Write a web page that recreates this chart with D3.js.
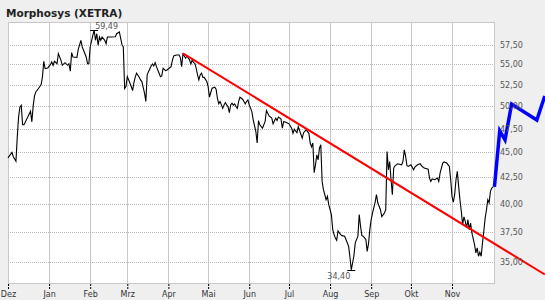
<!DOCTYPE html>
<html>
<head>
<meta charset="utf-8">
<script src="https://cdn.jsdelivr.net/npm/d3@7"></script>
<style>
  html, body { margin: 0; padding: 0; background: #efefef; }
  svg { display: block; }
</style>
</head>
<body>
<svg id="chart" width="545" height="300"></svg>
<script>
// Schlusskurse Morphosys (XETRA), Dez 2006 - Dez 2007
const closes = [
  ['2006-12-01', 44.43], ['2006-12-04', 44.97], ['2006-12-05', 44.54], ['2006-12-07', 44.10], ['2006-12-08', 46.62],
  ['2006-12-09', 48.79], ['2006-12-10', 49.91], ['2006-12-11', 50.11], ['2006-12-12', 47.94], ['2006-12-13', 47.90],
  ['2006-12-16', 48.79], ['2006-12-18', 49.43], ['2006-12-19', 48.24], ['2006-12-20', 50.03], ['2006-12-21', 51.18],
  ['2006-12-22', 51.65], ['2006-12-24', 52.05], ['2006-12-26', 52.53], ['2006-12-27', 53.46], ['2006-12-28', 55.40],
  ['2006-12-29', 54.47], ['2006-12-31', 54.56],
  ['2007-01-02', 54.97], ['2007-01-03', 55.31], ['2007-01-04', 54.89], ['2007-01-05', 55.40], ['2007-01-07', 55.09],
  ['2007-01-08', 56.37], ['2007-01-10', 55.52], ['2007-01-11', 54.89], ['2007-01-13', 55.22], ['2007-01-15', 54.89],
  ['2007-01-16', 55.09], ['2007-01-17', 54.15], ['2007-01-18', 56.50], ['2007-01-19', 55.94], ['2007-01-22', 55.90],
  ['2007-01-23', 56.94], ['2007-01-25', 58.12], ['2007-01-26', 57.24], ['2007-01-27', 56.81], ['2007-01-29', 55.94],
  ['2007-01-30', 55.09], ['2007-01-31', 55.10],
  ['2007-02-01', 57.24], ['2007-02-03', 58.79], ['2007-02-04', 59.49], ['2007-02-05', 58.12], ['2007-02-06', 59.00],
  ['2007-02-07', 57.46], ['2007-02-08', 58.56], ['2007-02-09', 58.12], ['2007-02-10', 58.56], ['2007-02-12', 58.12],
  ['2007-02-13', 57.67], ['2007-02-14', 58.56], ['2007-02-17', 58.56], ['2007-02-20', 58.60], ['2007-02-21', 59.00],
  ['2007-02-23', 59.23], ['2007-02-25', 57.54], ['2007-02-26', 57.24], ['2007-02-27', 52.05], ['2007-02-28', 52.29],
  ['2007-03-01', 53.49], ['2007-03-02', 53.10], ['2007-03-04', 52.29], ['2007-03-05', 51.81], ['2007-03-06', 52.77],
  ['2007-03-07', 53.42], ['2007-03-08', 53.91], ['2007-03-10', 53.42], ['2007-03-11', 53.09], ['2007-03-12', 52.89],
  ['2007-03-14', 51.50], ['2007-03-15', 50.53], ['2007-03-16', 53.70], ['2007-03-17', 54.10], ['2007-03-19', 54.81],
  ['2007-03-20', 55.06], ['2007-03-21', 54.81], ['2007-03-22', 55.22], ['2007-03-23', 54.72], ['2007-03-25', 53.91],
  ['2007-03-26', 53.49], ['2007-03-27', 53.58], ['2007-03-28', 54.52], ['2007-03-30', 54.22], ['2007-03-31', 54.31],
  ['2007-04-03', 54.72], ['2007-04-04', 55.47], ['2007-04-05', 56.07], ['2007-04-07', 56.20], ['2007-04-09', 56.20],
  ['2007-04-10', 55.90], ['2007-04-11', 54.72], ['2007-04-12', 56.33], ['2007-04-13', 56.07], ['2007-04-14', 55.78],
  ['2007-04-15', 56.07], ['2007-04-17', 55.56], ['2007-04-18', 55.06], ['2007-04-19', 55.56], ['2007-04-20', 55.22],
  ['2007-04-21', 55.14], ['2007-04-22', 54.52], ['2007-04-23', 53.70], ['2007-04-24', 53.09], ['2007-04-25', 53.70],
  ['2007-04-26', 53.91], ['2007-04-27', 53.42], ['2007-04-28', 53.40], ['2007-04-30', 52.89],
  ['2007-05-01', 52.29], ['2007-05-02', 51.03], ['2007-05-03', 51.58], ['2007-05-04', 52.10], ['2007-05-06', 52.22],
  ['2007-05-07', 51.98], ['2007-05-08', 50.91], ['2007-05-09', 50.26], ['2007-05-10', 50.53], ['2007-05-11', 50.14],
  ['2007-05-12', 49.75], ['2007-05-13', 50.14], ['2007-05-14', 50.41], ['2007-05-15', 50.14], ['2007-05-16', 49.95],
  ['2007-05-17', 49.27], ['2007-05-18', 50.14], ['2007-05-19', 50.33], ['2007-05-20', 50.12], ['2007-05-21', 50.26],
  ['2007-05-22', 49.95], ['2007-05-23', 49.75], ['2007-05-24', 50.53], ['2007-05-25', 51.03], ['2007-05-27', 50.80],
  ['2007-05-28', 50.53], ['2007-05-29', 50.26], ['2007-05-30', 50.53], ['2007-05-31', 50.72],
  ['2007-06-01', 50.14], ['2007-06-03', 49.38], ['2007-06-04', 48.46], ['2007-06-06', 47.18], ['2007-06-07', 45.96],
  ['2007-06-08', 48.38], ['2007-06-09', 47.91], ['2007-06-11', 47.54], ['2007-06-13', 48.28], ['2007-06-14', 49.50],
  ['2007-06-16', 48.90], ['2007-06-18', 48.65], ['2007-06-19', 48.02], ['2007-06-21', 48.65], ['2007-06-22', 48.38],
  ['2007-06-23', 48.76], ['2007-06-25', 48.54], ['2007-06-26', 47.54], ['2007-06-27', 48.28], ['2007-06-29', 48.16],
  ['2007-07-01', 48.02], ['2007-07-03', 47.54], ['2007-07-04', 47.00], ['2007-07-05', 47.43], ['2007-07-07', 47.06],
  ['2007-07-08', 47.72], ['2007-07-09', 47.29], ['2007-07-11', 46.48], ['2007-07-12', 47.06], ['2007-07-14', 47.36],
  ['2007-07-15', 47.18], ['2007-07-16', 47.00], ['2007-07-17', 45.96], ['2007-07-18', 45.56], ['2007-07-19', 45.96],
  ['2007-07-20', 42.94], ['2007-07-21', 43.73], ['2007-07-22', 44.74], ['2007-07-23', 44.23], ['2007-07-24', 45.43],
  ['2007-07-25', 45.77], ['2007-07-26', 42.09], ['2007-07-27', 41.31], ['2007-07-29', 40.37], ['2007-07-30', 40.68],
  ['2007-07-31', 39.92],
  ['2007-08-02', 39.02], ['2007-08-03', 37.71], ['2007-08-04', 37.28], ['2007-08-05', 37.00], ['2007-08-06', 36.80],
  ['2007-08-07', 37.60], ['2007-08-09', 37.28], ['2007-08-10', 37.19], ['2007-08-12', 37.14], ['2007-08-13', 36.86],
  ['2007-08-14', 36.58], ['2007-08-15', 36.30], ['2007-08-16', 35.40], ['2007-08-17', 34.40], ['2007-08-18', 34.95],
  ['2007-08-19', 35.54], ['2007-08-20', 36.58], ['2007-08-22', 37.14], ['2007-08-23', 39.02], ['2007-08-24', 37.99],
  ['2007-08-25', 37.19], ['2007-08-26', 37.14], ['2007-08-28', 36.86], ['2007-08-29', 35.88], ['2007-08-30', 36.52],
  ['2007-08-31', 37.71],
  ['2007-09-01', 38.57], ['2007-09-02', 39.16], ['2007-09-04', 40.14], ['2007-09-05', 40.84], ['2007-09-06', 40.09],
  ['2007-09-08', 39.46], ['2007-09-09', 38.84], ['2007-09-11', 39.16], ['2007-09-12', 39.46], ['2007-09-13', 45.08],
  ['2007-09-14', 43.23], ['2007-09-15', 44.04], ['2007-09-16', 42.26], ['2007-09-17', 40.84], ['2007-09-18', 43.40],
  ['2007-09-19', 43.63], ['2007-09-21', 43.83], ['2007-09-24', 43.73], ['2007-09-25', 44.06], ['2007-09-26', 45.25],
  ['2007-09-27', 44.57], ['2007-09-28', 43.63], ['2007-09-29', 43.56],
  ['2007-10-01', 43.73], ['2007-10-03', 43.23], ['2007-10-04', 43.50], ['2007-10-06', 43.73], ['2007-10-08', 43.83],
  ['2007-10-09', 43.63], ['2007-10-11', 43.40], ['2007-10-14', 43.30], ['2007-10-15', 42.42], ['2007-10-16', 42.09],
  ['2007-10-17', 42.33], ['2007-10-19', 42.26], ['2007-10-21', 42.42], ['2007-10-22', 42.09], ['2007-10-23', 42.91],
  ['2007-10-25', 43.90], ['2007-10-26', 44.01], ['2007-10-28', 43.90], ['2007-10-30', 43.56], ['2007-10-31', 42.26],
  ['2007-11-01', 40.68], ['2007-11-02', 40.14], ['2007-11-03', 40.84], ['2007-11-04', 42.26], ['2007-11-05', 43.07],
  ['2007-11-06', 41.62], ['2007-11-07', 40.37], ['2007-11-08', 39.32], ['2007-11-09', 38.14], ['2007-11-10', 38.82],
  ['2007-11-11', 38.42], ['2007-11-12', 37.85], ['2007-11-13', 38.57], ['2007-11-14', 37.71], ['2007-11-15', 38.28],
  ['2007-11-16', 37.43], ['2007-11-18', 36.44], ['2007-11-19', 35.75], ['2007-11-20', 36.16], ['2007-11-21', 35.48],
  ['2007-11-22', 35.81], ['2007-11-23', 35.48], ['2007-11-24', 36.58], ['2007-11-25', 37.57], ['2007-11-26', 38.71],
  ['2007-11-27', 39.46], ['2007-11-28', 40.37], ['2007-11-29', 40.09], ['2007-11-30', 41.15], ['2007-12-01', 41.47],
  ['2007-12-02', 41.57]
]

// aktuelle Kurse (blau, dick)
const latest = [
  ['2007-12-03', 41.57], ['2007-12-07', 47.25], ['2007-12-11', 46.29], ['2007-12-16', 50.24],
  ['2008-01-04', 48.44], ['2008-01-10', 51.18]
]

// Trendlinie (rot)
const trend = [['2007-04-12', 56.42], ['2008-01-10', 34.03]]

const monthTicks = ['2006-12-01', '2007-01-01', '2007-02-01', '2007-03-01', '2007-04-01', '2007-05-01',
  '2007-06-01', '2007-07-01', '2007-08-01', '2007-09-01', '2007-10-01', '2007-11-01']
const monthLabels = ['Dez', 'Jan', 'Feb', 'Mrz', 'Apr', 'Mai', 'Jun', 'Jul', 'Aug', 'Sep', 'Okt', 'Nov']
const priceTicks = [35, 37.5, 40, 42.5, 45, 47.5, 50, 52.5, 55, 57.5]

const title = 'Morphosys (XETRA)'

// Abmessungen
const width = 545
const height = 300
const plot = { left: 8, top: 22, right: 495, bottom: 284 }
const font = 'DejaVu Sans, Verdana, sans-serif'

const parse = d3.timeParse('%Y-%m-%d')
const de = d3.formatLocale({ decimal: ',', thousands: '.', grouping: [3], currency: ['', ' €'] })
const fmt = de.format('.2f')

const svg = d3.select('#chart')

// Hintergrund
svg.append('rect').attr('width', width).attr('height', height).attr('fill', '#efefef')
svg.append('rect')
  .attr('x', plot.left).attr('y', plot.top)
  .attr('width', plot.right - plot.left).attr('height', plot.bottom - plot.top)
  .attr('fill', '#fff')

// Skalen: Zeit (1 Jahr ab Dez) und logarithmische Kursachse
const x = d3.scaleTime()
  .domain([parse('2006-12-01'), parse('2007-12-01')])
  .range([plot.left, plot.left + 365 * 1.3254])

const y = d3.scaleLog()
  .domain([33.3, 60.6])
  .range([plot.bottom, plot.top])

// Gitter
svg.append('g')
  .selectAll('line')
  .data(monthTicks.slice(1).map(parse))
  .join('line')
  .attr('x1', d => Math.round(x(d)) + 0.5).attr('x2', d => Math.round(x(d)) + 0.5)
  .attr('y1', plot.top).attr('y2', plot.bottom)
  .attr('stroke', '#c8c8c8')

svg.append('g')
  .selectAll('line')
  .data(priceTicks)
  .join('line')
  .attr('x1', plot.left).attr('x2', plot.right)
  .attr('y1', d => Math.round(y(d)) + 0.5).attr('y2', d => Math.round(y(d)) + 0.5)
  .attr('stroke', '#b8b8b8')
  .attr('stroke-dasharray', '1,1')

svg.append('rect')
  .attr('x', plot.left + 0.5).attr('y', plot.top + 0.5)
  .attr('width', plot.right - plot.left - 1).attr('height', plot.bottom - plot.top - 1)
  .attr('fill', 'none')
  .attr('stroke', '#c8c8c8')

// Kurslinien
const line = d3.line()
  .x(d => x(parse(d[0])))
  .y(d => y(d[1]))

svg.append('path')
  .datum(closes)
  .attr('d', line)
  .attr('fill', 'none')
  .attr('stroke', '#000')
  .attr('stroke-width', 1.1)

svg.append('path')
  .datum(trend)
  .attr('d', line)
  .attr('fill', 'none')
  .attr('stroke', '#ff0000')
  .attr('stroke-width', 2)

svg.append('path')
  .datum(latest)
  .attr('d', line)
  .attr('fill', 'none')
  .attr('stroke', '#0000ff')
  .attr('stroke-width', 3.5)
  .attr('stroke-linejoin', 'miter')

// Hoch / Tief markieren
const hi = closes.reduce((a, b) => (b[1] > a[1] ? b : a))
const lo = closes.reduce((a, b) => (b[1] < a[1] ? b : a))

;[hi, lo].forEach(d => {
  const px = x(parse(d[0]))
  const py = Math.round(y(d[1])) + 0.5
  svg.append('line')
    .attr('x1', px - 4).attr('x2', px + 4)
    .attr('y1', py).attr('y2', py)
    .attr('stroke', '#000')
})

svg.append('text')
  .attr('x', x(parse(hi[0])) + 1)
  .attr('y', y(hi[1]) - 1)
  .attr('font-family', font).attr('font-size', 8)
  .attr('fill', '#555')
  .text(fmt(hi[1]))

svg.append('text')
  .attr('x', x(parse(lo[0])) - 1)
  .attr('y', y(lo[1]) + 9)
  .attr('text-anchor', 'end')
  .attr('font-family', font).attr('font-size', 8)
  .attr('fill', '#555')
  .text(fmt(lo[1]))

// Achsen
const yAxis = svg.append('g')
  .attr('transform', `translate(${plot.right}, 0)`)
  .call(d3.axisRight(y).tickValues(priceTicks).tickFormat(fmt).tickSize(0).tickPadding(5))
yAxis.select('.domain').remove()
yAxis.selectAll('text')
  .attr('font-family', font).attr('font-size', 8).attr('fill', '#555')

const xAxis = svg.append('g')
  .attr('transform', `translate(0, ${plot.bottom})`)
  .call(d3.axisBottom(x)
    .tickValues(monthTicks.map(parse))
    .tickFormat((d, i) => monthLabels[i])
    .tickSize(5)
    .tickPadding(2))
xAxis.select('.domain').remove()
xAxis.selectAll('.tick line')
  .attr('stroke', '#000')
  .attr('stroke-dasharray', '2,1')
xAxis.selectAll('text')
  .attr('font-family', font).attr('font-size', 8).attr('fill', '#333')

// Titel
svg.append('text')
  .attr('x', 6).attr('y', 17)
  .attr('font-family', font).attr('font-size', 10.5).attr('font-weight', 'bold')
  .attr('fill', '#222')
  .text(title)
</script>
</body>
</html>
